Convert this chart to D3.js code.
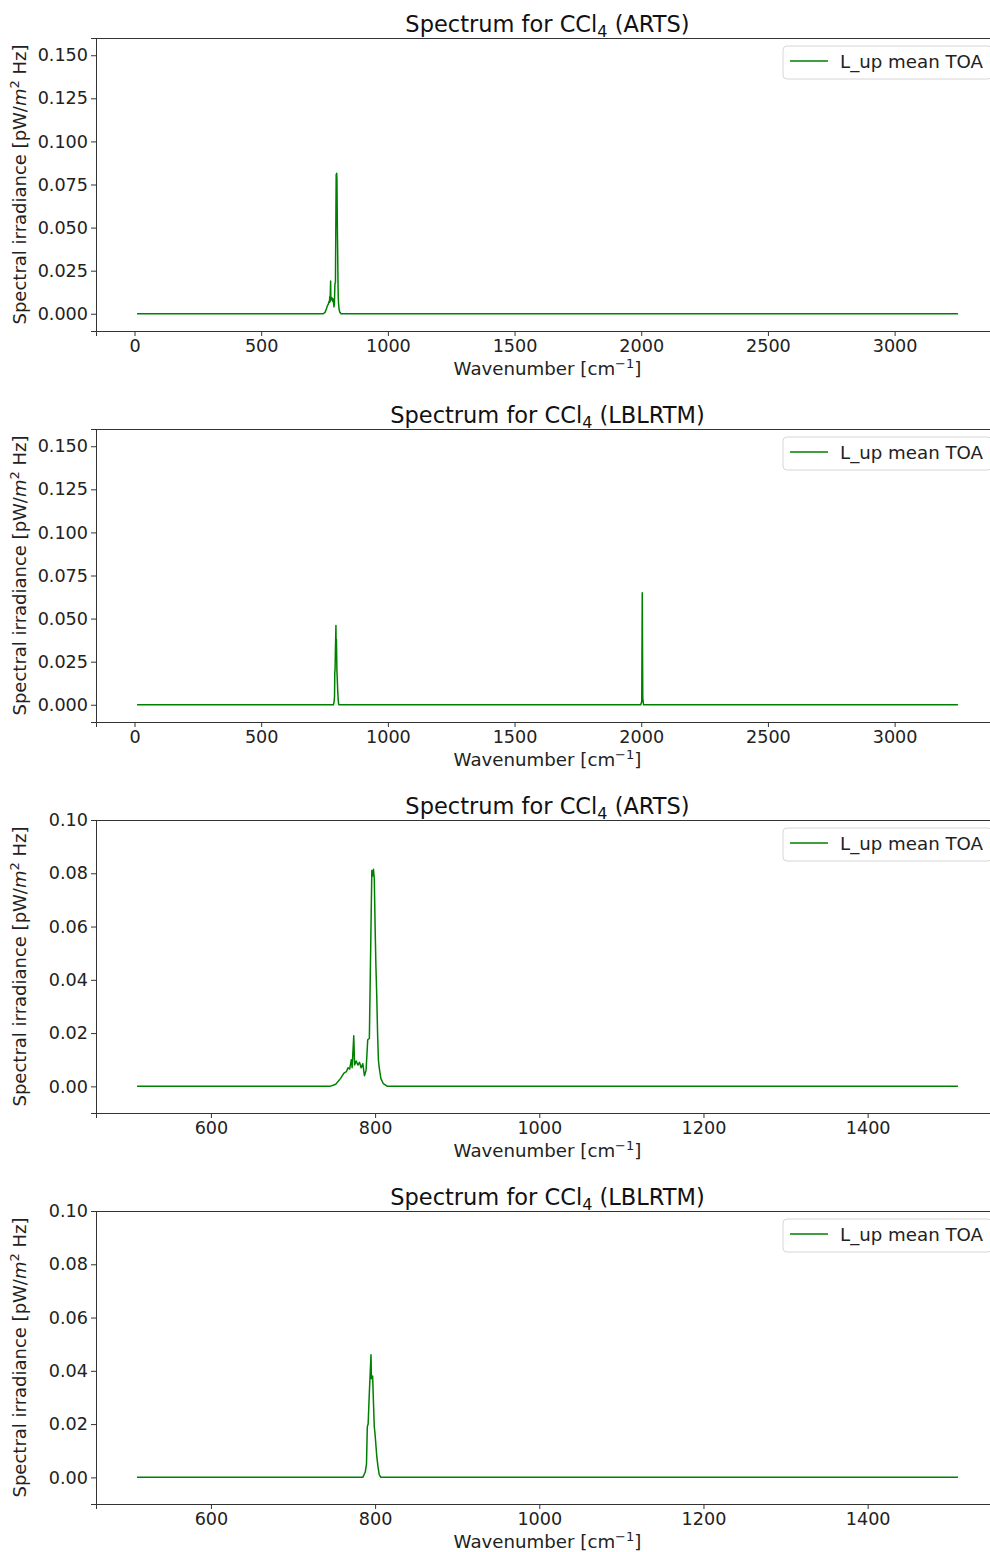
<!DOCTYPE html>
<html>
<head>
<meta charset="utf-8">
<script src="https://cdn.jsdelivr.net/npm/d3@7"></script>
<style>
  body { margin: 0; background: #fff; }
  svg { display: block; font-family: 'DejaVu Sans', sans-serif; }
  .axis path, .axis line { stroke: #333; }
  .axis text { fill: #222; font-size: 17.6px; font-family: 'DejaVu Sans', sans-serif; }
</style>
</head>
<body>
<div id="chart"></div>
<script>
// ARTS upwelling spectrum at TOA (wavenumber cm-1, pW/m2 Hz)
var artsWn  = [10, 510, 745, 752, 758, 762, 765, 767, 769, 771, 772, 774, 775, 777, 779, 781, 783, 785, 787, 789, 791, 793, 795, 796, 797, 798, 799, 800, 801, 802, 803, 804, 805, 807, 810, 815, 1510, 3250];
var artsVal = [0, 0, 0, 0.0008, 0.003, 0.005, 0.0055, 0.007, 0.0065, 0.010, 0.007, 0.019, 0.008, 0.0095, 0.008, 0.009, 0.007, 0.0085, 0.004, 0.006, 0.0175, 0.018, 0.060, 0.081, 0.079, 0.0815, 0.078, 0.060, 0.045, 0.034, 0.020, 0.010, 0.007, 0.003, 0.001, 0, 0, 0];

// LBLRTM upwelling spectrum at TOA
var lblWn  = [10, 510, 785, 788, 789.5, 790.5, 791.5, 793, 795, 795.5, 797, 798, 799, 800, 802, 803.5, 805, 807, 1510, 1998, 2002, 2004, 2006, 2009, 3250];
var lblVal = [0, 0, 0, 0.002, 0.005, 0.019, 0.020, 0.032, 0.046, 0.037, 0.038, 0.028, 0.019, 0.016, 0.008, 0.004, 0.001, 0, 0, 0, 0.002, 0.065, 0.004, 0, 0];

var fullTicks = [0, 500, 1000, 1500, 2000, 2500, 3000];
var zoomTicks = [600, 800, 1000, 1200, 1400];
var fullYTicks = [0, 0.025, 0.05, 0.075, 0.1, 0.125, 0.15];
var zoomYTicks = [0, 0.02, 0.04, 0.06, 0.08, 0.1];

var panels = [
  { model: 'ARTS',   wn: artsWn, val: artsVal, xdom: [-152, 3412], xr: [10, 3250],  ydom: [-0.01, 0.16], xt: fullTicks, yt: fullYTicks, fmt: '.3f' },
  { model: 'LBLRTM', wn: lblWn,  val: lblVal,  xdom: [-152, 3412], xr: [10, 3250],  ydom: [-0.01, 0.16], xt: fullTicks, yt: fullYTicks, fmt: '.3f' },
  { model: 'ARTS',   wn: artsWn, val: artsVal, xdom: [460, 1560],  xr: [510, 1510], ydom: [-0.01, 0.10], xt: zoomTicks, yt: zoomYTicks, fmt: '.2f' },
  { model: 'LBLRTM', wn: lblWn,  val: lblVal,  xdom: [460, 1560],  xr: [510, 1510], ydom: [-0.01, 0.10], xt: zoomTicks, yt: zoomYTicks, fmt: '.2f' }
];

var W = 990, H = 1552;
var left = 96, right = 999, plotH = 293, firstTop = 38, step = 391;

var svg = d3.select('#chart').append('svg')
  .attr('width', W)
  .attr('height', H);

panels.forEach(function (p, i) {
  var top = firstTop + i * step;
  var g = svg.append('g').attr('transform', 'translate(0,' + top + ')');

  var x = d3.scaleLinear().domain(p.xdom).range([left, right]);
  var y = d3.scaleLinear().domain(p.ydom).range([plotH, 0]);

  var pts = p.wn.map(function (w, k) { return [w, p.val[k]]; })
    .filter(function (d) { return d[0] >= p.xr[0] && d[0] <= p.xr[1]; });

  // spines (left, top, bottom; right lies outside the picture)
  g.append('line').attr('x1', left).attr('x2', right).attr('y1', 0.5).attr('y2', 0.5)
    .attr('stroke', '#333').attr('stroke-width', 1);

  g.append('g').attr('class', 'axis')
    .attr('transform', 'translate(0,' + plotH + ')')
    .call(d3.axisBottom(x).tickValues(p.xt).tickSize(5).tickPadding(4).tickFormat(d3.format('d')));

  g.append('g').attr('class', 'axis')
    .attr('transform', 'translate(' + left + ',0)')
    .call(d3.axisLeft(y).tickValues(p.yt).tickSize(5).tickPadding(3).tickFormat(d3.format(p.fmt)));

  var line = d3.line().x(function (d) { return x(d[0]); }).y(function (d) { return y(d[1]); });
  g.append('path').datum(pts)
    .attr('d', line)
    .attr('fill', 'none')
    .attr('stroke', '#008000')
    .attr('stroke-width', 1.5)
    .attr('stroke-linejoin', 'round');

  // title
  var t = g.append('text')
    .attr('x', (left + right) / 2).attr('y', -6)
    .attr('text-anchor', 'middle')
    .attr('font-size', 22.5).attr('fill', '#111');
  t.append('tspan').text('Spectrum for CCl');
  t.append('tspan').attr('font-size', 16).attr('dy', 5).text('4');
  t.append('tspan').attr('dy', -5).text(' (' + p.model + ')');

  // x label
  var xl = g.append('text')
    .attr('x', (left + right) / 2).attr('y', plotH + 44)
    .attr('text-anchor', 'middle')
    .attr('font-size', 18.2).attr('fill', '#222');
  xl.append('tspan').text('Wavenumber [cm');
  xl.append('tspan').attr('font-size', 13).attr('dy', -7).text('\u22121');
  xl.append('tspan').attr('dy', 7).text(']');

  // y label
  var yl = g.append('text')
    .attr('transform', 'translate(26,' + (plotH / 2) + ') rotate(-90)')
    .attr('text-anchor', 'middle')
    .attr('font-size', 18).attr('fill', '#222');
  yl.append('tspan').text('Spectral irradiance [pW/');
  yl.append('tspan').attr('font-style', 'italic').text('m');
  yl.append('tspan').attr('font-size', 13).attr('dy', -7).text('2');
  yl.append('tspan').attr('dy', 7).text(' Hz]');

  // legend
  var lg = g.append('g').attr('transform', 'translate(783,8)');
  lg.append('rect').attr('width', 209).attr('height', 33).attr('rx', 4)
    .attr('fill', '#fff').attr('fill-opacity', 0.8)
    .attr('stroke', '#d6d6d6');
  lg.append('line').attr('x1', 7).attr('x2', 45).attr('y1', 15).attr('y2', 15)
    .attr('stroke', '#008000').attr('stroke-width', 1.5);
  lg.append('text').attr('x', 57).attr('y', 21.5)
    .attr('font-size', 18.2).attr('fill', '#222')
    .text('L_up mean TOA');
});
</script>
</body>
</html>
